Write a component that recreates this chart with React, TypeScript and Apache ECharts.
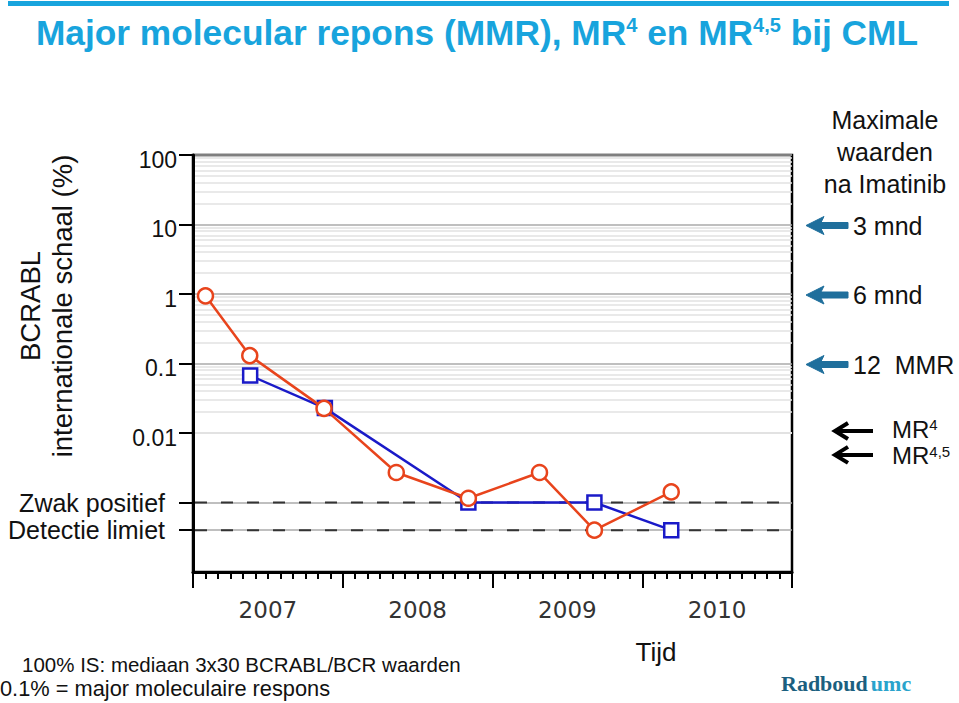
import React, { useEffect, useRef } from 'react';
import * as echarts from 'echarts';

// ---- data ----
const redDates = ['2007-02-01', '2007-05-18', '2007-11-16', '2008-05-10', '2008-11-03', '2009-04-24', '2009-09-06', '2010-03-11'];
const redValues = [0.94, 0.13, 0.0226, 0.0027, 0.00115, 0.0027, 0.0004, 0.00142];
const blueDates = ['2007-05-19', '2007-11-18', '2008-11-03', '2009-09-06', '2010-03-11'];
const blueValues = [0.067, 0.0228, 0.001, 0.001, 0.0004];
const yearLabels = ['2007', '2008', '2009', '2010'];
const yLabelValues = [100, 10, 1, 0.1, 0.01];
const yLabelTexts = ['100', '10', '1', '0.1', '0.01'];
const thresholdValues = [0.001, 0.0004];
const thresholdLabels = ['Zwak positief', 'Detectie limiet'];
const rightMarkValues = [10, 1, 0.1];
const rightMarkLabels = ['3 mnd', '6 mnd', '12  MMR'];
const mrValues = [0.01, 0.005];
const X_MIN = 0;
const X_MAX = 48;

const FONT = '"Liberation Sans", Arial, Helvetica, sans-serif';
const RED = '#e8441c';
const BLUE = '#1a1ac8';
const CYAN = '#18a4dd';
const ARROW_BLUE = '#1f6f9c';

function toMonths(d: string): number {
  const [y, m, day] = d.split('-').map(Number);
  const dim = new Date(y, m, 0).getDate();
  return (y - 2007) * 12 + (m - 1) + (day - 1) / dim;
}

// light minor grid lines at 2..9 within each decade
const minorGrid: number[] = [];
for (let e = -4; e < 2; e++) {
  for (let m = 2; m <= 9; m++) minorGrid.push(m * Math.pow(10, e));
}

function fmtY(v: number): string {
  const r = Number(v.toPrecision(3));
  for (let i = 0; i < yLabelValues.length; i++) if (Math.abs(r - yLabelValues[i]) / yLabelValues[i] < 1e-6) return '{n|' + yLabelTexts[i] + '}';
  for (let i = 0; i < thresholdValues.length; i++) if (Math.abs(r - thresholdValues[i]) / thresholdValues[i] < 1e-6) return '{z|' + thresholdLabels[i] + '}';
  return '';
}

function blueArrow(x: number, y: number) {
  return {
    type: 'polygon',
    shape: { points: [[x, y], [x + 18, y - 9], [x + 15, y - 3], [x + 42, y - 3], [x + 42, y + 3], [x + 15, y + 3], [x + 18, y + 9]] },
    style: { fill: ARROW_BLUE, stroke: ARROW_BLUE, lineWidth: 1, lineJoin: 'round' },
  };
}
function blackArrow(x: number, y: number) {
  return {
    type: 'group',
    children: [
      { type: 'line', shape: { x1: x + 3, y1: y, x2: x + 40, y2: y }, style: { stroke: '#000', lineWidth: 4 } },
      { type: 'polyline', shape: { points: [[x + 15, y - 8], [x + 2, y], [x + 15, y + 8]] }, style: { stroke: '#000', lineWidth: 4, fill: 'none' } },
    ],
  };
}

function buildOption(): any {
  return {
    animation: false,
    backgroundColor: '#fff',
    textStyle: { fontFamily: FONT },
    grid: { left: 193, top: 155, right: 167, bottom: 131, show: true, borderColor: '#000', borderWidth: 2.5, containLabel: false },
    xAxis: [
      {
        type: 'value', min: X_MIN, max: X_MAX, interval: 12,
        axisLine: { show: true, lineStyle: { color: '#000', width: 3 } },
        axisTick: { show: true, length: 16, lineStyle: { color: '#000', width: 2 } },
        minorTick: { show: true, splitNumber: 12, length: 7, lineStyle: { color: '#000', width: 2 } },
        axisLabel: { show: false },
        splitLine: { show: false },
      },
      {
        type: 'category', data: yearLabels, position: 'bottom', boundaryGap: true,
        axisLine: { show: false }, axisTick: { show: false }, splitLine: { show: false },
        axisLabel: { show: true, margin: 26, fontSize: 23, color: '#333', fontFamily: '"DejaVu Sans", Verdana, sans-serif' },
      },
    ],
    yAxis: {
      type: 'log', logBase: 10, min: 0.0001, max: 100,
      axisLine: { show: true, onZero: false, lineStyle: { color: '#000', width: 3 } },
      axisTick: { show: true, length: 14, customValues: [0.0004, 0.001, 0.01, 0.1, 1, 10, 100], lineStyle: { color: '#000', width: 2 } },
      axisLabel: {
        show: true, margin: 16, formatter: fmtY, color: '#111',
        customValues: [0.0004, 0.001, 0.01, 0.1, 1, 10, 100],
        rich: {
          n: { fontSize: 23, color: '#111', fontFamily: FONT, padding: [9, 0, 0, 0] },
          z: { fontSize: 25, color: '#111', fontFamily: FONT, padding: [0, 12, 0, 0] },
        },
      },
      splitLine: { show: true, lineStyle: { color: '#aaaaaa', width: 1.5 } },
    },
    series: [
      {
        name: 'Blauw', type: 'line', xAxisIndex: 0, yAxisIndex: 0, z: 3,
        data: blueDates.map((d, i) => [toMonths(d), blueValues[i]]),
        symbol: 'rect', symbolSize: 14, showAllSymbol: true,
        lineStyle: { color: BLUE, width: 2.5 },
        itemStyle: { color: '#fff', borderColor: BLUE, borderWidth: 2.5 },
        markLine: {
          silent: true, symbol: ['none', 'none'], z: 0, animation: false,
          label: { show: false },
          lineStyle: { color: '#e2e2e2', width: 1.5, type: 'solid' },
          data: minorGrid.map((v) => ({ yAxis: v })),
        },
      },
      {
        name: 'Rood', type: 'line', xAxisIndex: 0, yAxisIndex: 0, z: 4,
        data: redDates.map((d, i) => [toMonths(d), redValues[i]]),
        symbol: 'circle', symbolSize: 15, showAllSymbol: true,
        lineStyle: { color: RED, width: 2.5 },
        itemStyle: { color: '#fff', borderColor: RED, borderWidth: 2.5 },
      },
    ],
  };
}

function buildGraphics(py: (v: number) => number, px: (v: number) => number): any[] {
  const graphics: any[] = [];
  // dashed threshold lines, positioned through the axis scale
  thresholdValues.forEach((v) => {
    graphics.push({
      type: 'line', z: 1, silent: true,
      shape: { x1: px(X_MIN) + 2, y1: py(v), x2: px(X_MAX) - 1, y2: py(v) },
      style: { stroke: '#333333', lineWidth: 2, lineDash: [12, 14] },
    });
  });
  graphics.push(
    { type: 'rect', shape: { x: 8, y: 1, width: 941, height: 5 }, style: { fill: CYAN } },
    {
      type: 'text', x: 477, y: 32,
      style: {
        text: '{t|Major molecular repons (MMR), MR}{s|4}{t| en MR}{s|4,5}{t| bij CML}',
        align: 'center', verticalAlign: 'middle',
        rich: {
          t: { fontSize: 35.3, fontWeight: 'bold', fill: CYAN, fontFamily: FONT },
          s: { fontSize: 20, fontWeight: 'bold', fill: CYAN, fontFamily: FONT, verticalAlign: 'top' },
        },
      },
    },
    {
      type: 'text', x: 46, y: 306, rotation: Math.PI / 2,
      style: { text: 'BCRABL\ninternationale schaal (%)', align: 'center', verticalAlign: 'middle', fontSize: 27.5, lineHeight: 32, fill: '#111', fontFamily: FONT },
    },
    {
      type: 'text', x: 885, y: 152,
      style: { text: 'Maximale\nwaarden\nna Imatinib', align: 'center', verticalAlign: 'middle', fontSize: 25, lineHeight: 32, fill: '#111', fontFamily: FONT },
    },
    { type: 'text', x: 656, y: 652, style: { text: 'Tijd', align: 'center', verticalAlign: 'middle', fontSize: 26, fill: '#111', fontFamily: FONT } },
    { type: 'text', x: 22, y: 664, style: { text: '100% IS: mediaan 3x30 BCRABL/BCR waarden', align: 'left', verticalAlign: 'middle', fontSize: 20.5, fill: '#111', fontFamily: FONT } },
    { type: 'text', x: 0, y: 688, style: { text: '0.1% = major moleculaire respons', align: 'left', verticalAlign: 'middle', fontSize: 21.8, fill: '#111', fontFamily: FONT } },
    {
      type: 'text', x: 781, y: 683,
      style: {
        text: '{r|Radboud}{u|umc}', align: 'left', verticalAlign: 'middle',
        rich: {
          r: { fontSize: 22, fontWeight: 'bold', fill: '#1b5f80', fontFamily: '"Liberation Serif", "DejaVu Serif", serif' },
          u: { fontSize: 22, fontWeight: 'bold', fill: '#2aa3cc', fontFamily: '"Liberation Serif", "DejaVu Serif", serif', padding: [0, 0, 0, 3] },
        },
      },
    },
  );
  rightMarkValues.forEach((v, i) => {
    const y = py(v) + 1;
    graphics.push(blueArrow(806, y));
    graphics.push({ type: 'text', x: 853, y, style: { text: rightMarkLabels[i], align: 'left', verticalAlign: 'middle', fontSize: 25, fill: '#111', fontFamily: FONT } });
  });
  const mrTexts = ['{m|MR}{s|4}', '{m|MR}{s|4,5}'];
  const mrShift = [-4, 2];
  mrValues.forEach((v, i) => {
    const y = py(v);
    graphics.push(blackArrow(833, y + (i === 0 ? -2 : 1)));
    graphics.push({
      type: 'text', x: 892, y: y + mrShift[i],
      style: {
        text: mrTexts[i], align: 'left', verticalAlign: 'middle',
        rich: {
          m: { fontSize: 24, lineHeight: 24, fill: '#111', fontFamily: FONT },
          s: { fontSize: 15, lineHeight: 15, fill: '#111', fontFamily: FONT, verticalAlign: 'top' },
        },
      },
    });
  });
  return graphics;
}

export default function App() {
  const ref = useRef<HTMLDivElement>(null);
  useEffect(() => {
    // measuring pass: read pixel positions from the axis scales
    const probe = echarts.init(ref.current!, null, { renderer: 'svg' });
    probe.setOption(buildOption());
    const yCache: Record<string, number> = {};
    [...rightMarkValues, ...mrValues, ...thresholdValues].forEach((v) => {
      yCache[String(v)] = probe.convertToPixel({ yAxisIndex: 0 }, v) as number;
    });
    const xCache: Record<string, number> = {};
    [X_MIN, X_MAX].forEach((v) => {
      xCache[String(v)] = probe.convertToPixel({ xAxisIndex: 0 }, v) as number;
    });
    probe.dispose();
    // final single render
    const chart = echarts.init(ref.current!, null, { renderer: 'svg' });
    const option = buildOption();
    option.graphic = buildGraphics((v) => yCache[String(v)], (v) => xCache[String(v)]);
    chart.setOption(option);
    return () => chart.dispose();
  }, []);
  return <div ref={ref} style={{ position: 'fixed', left: 0, top: 0, width: 959, height: 703, background: '#fff' }} />;
}
